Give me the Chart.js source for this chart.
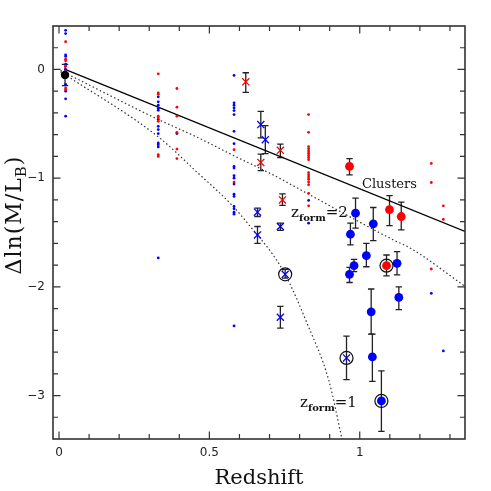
<!DOCTYPE html>
<html>
<head>
<meta charset="utf-8">
<script src="https://cdn.jsdelivr.net/npm/chart.js@4"></script>
<style>
html,body{margin:0;padding:0;background:#fff;}
#c{display:block;}
</style>
</head>
<body>
<canvas id="c" width="491" height="491"></canvas>
<script>
// ---------------- DATA ----------------
const xMajorTicks = [0, 0.5, 1];
const xMinorTicks = [0.1, 0.2, 0.3, 0.4, 0.6, 0.7, 0.8, 0.9, 1.1, 1.2, 1.3];
const yMajorTicks = [0, -1, -2, -3];
const yMinorTicks = [0.2, -0.2, -0.4, -0.6, -0.8, -1.2, -1.4, -1.6, -1.8, -2.2, -2.4, -2.6, -2.8, -3.2];

// model lines [z, dln(M/L)]
const clustersLine = [[0.02, 0], [1.35, -1.49]];
const zform2Line = [[0.005, -0.01], [0.33, -0.46], [0.457, -0.62], [0.579, -0.79], [0.712, -0.97], [0.825, -1.14], [1.113, -1.57], [1.169, -1.645], [1.35, -1.995]];
const zform1Line = [[0.005, -0.02], [0.33, -0.62], [0.457, -0.94], [0.579, -1.26], [0.636, -1.445], [0.712, -1.707], [0.752, -1.885], [0.825, -2.337], [0.897, -2.86], [0.941, -3.4]];

// small dots (individual galaxies)
const redDots = [
  [0.022, 0.255], [0.022, 0.095], [0.022, 0.08], [0.022, 0.03], [0.022, -0.02], [0.022, -0.07], [0.022, -0.17], [0.022, -0.185],
  [0.33, -0.04], [0.33, -0.215], [0.33, -0.228], [0.33, -0.43], [0.33, -0.446], [0.33, -0.477], [0.33, -0.784], [0.33, -0.8],
  [0.392, -0.175], [0.392, -0.347], [0.392, -0.43], [0.392, -0.578], [0.392, -0.732], [0.392, -0.82],
  [0.582, -0.738], [0.582, -1.036],
  [0.83, -0.415], [0.83, -0.578], [0.83, -0.71], [0.83, -0.73], [0.83, -0.75], [0.83, -0.77], [0.83, -0.79], [0.83, -0.81], [0.83, -0.83],
  [0.83, -0.95], [0.83, -0.97], [0.83, -0.99], [0.83, -1.01], [0.83, -1.035], [0.83, -1.06], [0.83, -1.14], [0.83, -1.255],
  [1.238, -0.864], [1.238, -1.04], [1.238, -1.836],
  [1.278, -1.255], [1.278, -1.38]
];
const blueDots = [
  [0.022, 0.36], [0.022, 0.33], [0.022, 0.135], [0.022, 0.12], [0.022, 0.05], [0.022, 0.0], [0.022, -0.138], [0.022, -0.2], [0.022, -0.27], [0.022, -0.43],
  [0.33, -0.252], [0.33, -0.298], [0.33, -0.329], [0.33, -0.36], [0.33, -0.375], [0.33, -0.461], [0.33, -0.523], [0.33, -0.553], [0.33, -0.59],
  [0.33, -0.676], [0.33, -0.692], [0.33, -0.713], [0.33, -1.734],
  [0.392, -0.59],
  [0.582, -0.055], [0.582, -0.307], [0.582, -0.329], [0.582, -0.353], [0.582, -0.378], [0.582, -0.415], [0.582, -0.569], [0.582, -0.683],
  [0.582, -0.892], [0.582, -0.907], [0.582, -0.978], [0.582, -1.0], [0.582, -1.054], [0.582, -1.147], [0.582, -1.168], [0.582, -1.261],
  [0.582, -1.282], [0.582, -1.313], [0.582, -1.331], [0.582, -2.36],
  [0.83, -1.205], [0.83, -1.414],
  [1.238, -2.06],
  [1.278, -2.59]
];

// crosses with error bars
const redCrossZ  = [0.621, 0.671, 0.736, 0.743];
const redCrossY  = [-0.114, -0.855, -0.744, -1.2];
const redCrossLo = [-0.21, -0.93, -0.81, -1.25];
const redCrossHi = [-0.03, -0.778, -0.686, -1.144];

const blueCrossZ  = [0.671, 0.686, 0.66, 0.736, 0.66, 0.752, 0.736, 0.956];
const blueCrossY  = [-0.507, -0.646, -1.313, -1.445, -1.522, -1.885, -2.28, -2.654];
const blueCrossLo = [-0.63, -0.775, -1.353, -1.48, -1.6, -1.92, -2.38, -2.853];
const blueCrossHi = [-0.385, -0.517, -1.276, -1.414, -1.445, -1.84, -2.18, -2.454];

// filled circles with error bars
const redBigZ  = [0.966, 1.099, 1.138, 1.089];
const redBigY  = [-0.892, -1.29, -1.353, -1.805];
const redBigLo = [-0.97, -1.436, -1.476, -1.9];
const redBigHi = [-0.82, -1.16, -1.22, -1.707];

const blueBigZ  = [0.986, 0.969, 1.045, 1.022, 0.981, 0.966, 1.124, 1.13, 1.038, 1.042, 1.072];
const blueBigY  = [-1.322, -1.516, -1.42, -1.713, -1.805, -1.885, -1.784, -2.097, -2.23, -2.645, -3.05];
const blueBigLo = [-1.46, -1.614, -1.575, -1.815, -1.86, -1.96, -1.89, -2.21, -2.435, -2.87, -3.33];
const blueBigHi = [-1.184, -1.414, -1.27, -1.6, -1.747, -1.82, -1.676, -2.0, -2.02, -2.435, -2.774];

const localZ  = [0.02];
const localY  = [-0.05];
const localLo = [-0.148];
const localHi = [0.046];

// circled objects
const circledZ = [0.752, 0.956, 1.089, 1.072];
const circledY = [-1.885, -2.654, -1.805, -3.05];

// ---------------- HELPERS ----------------
const pts = (zs, ys) => zs.map((z, i) => ({x: z, y: ys[i]}));
const pairs = arr => arr.map(p => ({x: p[0], y: p[1]}));
const RED = '#ff0000', BLUE = '#0000ff';

const errorSets = [
  [redCrossZ, redCrossLo, redCrossHi],
  [blueCrossZ, blueCrossLo, blueCrossHi],
  [redBigZ, redBigLo, redBigHi],
  [blueBigZ, blueBigLo, blueBigHi],
  [localZ, localLo, localHi]
];

const errorBarPlugin = {
  id: 'errbars',
  beforeDatasetsDraw(chart) {
    const {ctx, scales: {x, y}} = chart;
    ctx.save();
    ctx.strokeStyle = '#222';
    ctx.lineWidth = 1.3;
    errorSets.forEach(([zs, lo, hi]) => {
      zs.forEach((z, i) => {
        const px = x.getPixelForValue(z);
        const p1 = y.getPixelForValue(lo[i]);
        const p2 = y.getPixelForValue(hi[i]);
        ctx.beginPath();
        ctx.moveTo(px, p1); ctx.lineTo(px, p2);
        ctx.moveTo(px - 3.2, p1); ctx.lineTo(px + 3.2, p1);
        ctx.moveTo(px - 3.2, p2); ctx.lineTo(px + 3.2, p2);
        ctx.stroke();
      });
    });
    ctx.restore();
  }
};

const framePlugin = {
  id: 'frame',
  afterDatasetsDraw(chart) {
    const {ctx, chartArea: a, scales: {x, y}} = chart;
    ctx.save();
    ctx.strokeStyle = '#333';
    ctx.lineWidth = 1.6;
    ctx.strokeRect(a.left, a.top, a.right - a.left, a.bottom - a.top);
    ctx.lineWidth = 1.2;
    ctx.beginPath();
    const tx = (v, len) => {
      const px = x.getPixelForValue(v);
      ctx.moveTo(px, a.bottom); ctx.lineTo(px, a.bottom - len);
      ctx.moveTo(px, a.top); ctx.lineTo(px, a.top + len);
    };
    const ty = (v, len) => {
      const py = y.getPixelForValue(v);
      ctx.moveTo(a.left, py); ctx.lineTo(a.left + len, py);
      ctx.moveTo(a.right, py); ctx.lineTo(a.right - len, py);
    };
    xMajorTicks.forEach(v => tx(v, 7.5));
    xMinorTicks.forEach(v => tx(v, 5));
    yMajorTicks.forEach(v => ty(v, 7.5));
    yMinorTicks.forEach(v => ty(v, 5));
    ctx.stroke();

    // annotations
    ctx.fillStyle = '#111';
    ctx.textBaseline = 'alphabetic';
    ctx.textAlign = 'left';
    ctx.font = '13px "DejaVu Serif"';
    ctx.fillText('Clusters', 362, 188);

    const zlabel = (txt, x0, y0) => {
      let xx = x0;
      ctx.font = '15px "DejaVu Serif"';
      ctx.fillText('z', xx, y0);
      xx += ctx.measureText('z').width;
      ctx.font = 'bold 10px "DejaVu Serif"';
      ctx.fillText('form', xx, y0 + 4);
      xx += ctx.measureText('form').width;
      ctx.font = '15px "DejaVu Serif"';
      ctx.fillText(txt, xx, y0);
    };
    zlabel('=2', 291, 217);
    zlabel('=1', 300, 407);

    // y axis title with subscript
    ctx.save();
    ctx.translate(21, 215);
    ctx.rotate(-Math.PI / 2);
    if ('letterSpacing' in ctx) ctx.letterSpacing = '1px';
    ctx.font = '22px "DejaVu Serif"';
    const p1 = '\u0394ln(M/L', p3 = ')';
    const w1 = ctx.measureText(p1).width;
    ctx.font = '15px "DejaVu Serif"';
    const w2 = ctx.measureText('B').width;
    ctx.font = '22px "DejaVu Serif"';
    const w3 = ctx.measureText(p3).width;
    let sx = -(w1 + w2 + w3) / 2;
    ctx.fillText(p1, sx, 0);
    sx += w1;
    ctx.font = '15px "DejaVu Serif"';
    ctx.fillText('B', sx, 5);
    sx += w2;
    ctx.font = '22px "DejaVu Serif"';
    ctx.fillText(p3, sx, 0);
    ctx.restore();
    ctx.restore();
  }
};

// ---------------- CHART ----------------
const datasets = [
  {label: 'circled', data: pts(circledZ, circledY), pointStyle: 'circle', pointRadius: 6.5,
   backgroundColor: 'rgba(0,0,0,0)', borderColor: '#111', pointBorderWidth: 1.2, showLine: false, order: 0},
  {label: 'local', data: pts(localZ, localY), pointRadius: 4.2, backgroundColor: '#000', borderColor: '#000', pointBorderWidth: 0, showLine: false, order: 1},
  {label: 'red clusters', data: pts(redBigZ, redBigY), pointRadius: 4.4, backgroundColor: RED, borderColor: RED, pointBorderWidth: 0, showLine: false, order: 1},
  {label: 'blue clusters', data: pts(blueBigZ, blueBigY), pointRadius: 4.4, backgroundColor: BLUE, borderColor: BLUE, pointBorderWidth: 0, showLine: false, order: 1},
  {label: 'red field', data: pts(redCrossZ, redCrossY), pointStyle: 'crossRot', pointRadius: 5, borderColor: RED, backgroundColor: RED, pointBorderWidth: 1.3, showLine: false, order: 2},
  {label: 'blue field', data: pts(blueCrossZ, blueCrossY), pointStyle: 'crossRot', pointRadius: 5, borderColor: BLUE, backgroundColor: BLUE, pointBorderWidth: 1.3, showLine: false, order: 2},
  {label: 'red dots', data: pairs(redDots), pointRadius: 1.4, backgroundColor: RED, borderColor: RED, pointBorderWidth: 0, showLine: false, order: 3},
  {label: 'blue dots', data: pairs(blueDots), pointRadius: 1.4, backgroundColor: BLUE, borderColor: BLUE, pointBorderWidth: 0, showLine: false, order: 3},
  {label: 'Clusters', type: 'line', data: pairs(clustersLine), borderColor: '#000', borderWidth: 1.3, pointRadius: 0, fill: false, order: 4},
  {label: 'zform=2', type: 'line', data: pairs(zform2Line), borderColor: '#333', borderWidth: 1.2, borderDash: [1.5, 2.5], pointRadius: 0, fill: false, cubicInterpolationMode: 'monotone', order: 4},
  {label: 'zform=1', type: 'line', data: pairs(zform1Line), borderColor: '#333', borderWidth: 1.2, borderDash: [1.5, 2.5], pointRadius: 0, fill: false, cubicInterpolationMode: 'monotone', order: 4}
];

const fmtNum = v => (v < 0 ? '\u2212' + Math.abs(v) : String(v));

new Chart(document.getElementById('c'), {
  type: 'scatter',
  data: {datasets},
  options: {
    responsive: false,
    devicePixelRatio: 1,
    animation: false,
    events: [],
    layout: {padding: {left: 0, right: 26, top: 26, bottom: 0}},
    plugins: {legend: {display: false}, tooltip: {enabled: false}},
    scales: {
      x: {
        type: 'linear', min: -0.02, max: 1.35,
        grid: {display: false, drawTicks: false}, border: {display: false},
        afterBuildTicks: s => { s.ticks = xMajorTicks.map(v => ({value: v})); },
        afterFit: s => { s.height = 52; },
        ticks: {autoSkip: false, maxRotation: 0, padding: 7, color: '#222',
                font: {family: '"DejaVu Sans"', size: 12}, callback: v => fmtNum(v)},
        title: {display: true, text: 'Redshift', color: '#111', padding: {top: 2, bottom: 0},
                font: {family: '"DejaVu Serif"', size: 21}}
      },
      y: {
        type: 'linear', min: -3.4, max: 0.4,
        grid: {display: false, drawTicks: false}, border: {display: false},
        afterBuildTicks: s => { s.ticks = yMajorTicks.map(v => ({value: v})); },
        afterFit: s => { s.width = 53; },
        ticks: {autoSkip: false, padding: 8, color: '#222',
                font: {family: '"DejaVu Sans"', size: 12}, callback: v => fmtNum(v)},
        title: {display: false, text: '\u0394ln(M/L_B)'}
      }
    }
  },
  plugins: [errorBarPlugin, framePlugin]
});
</script>
</body>
</html>
